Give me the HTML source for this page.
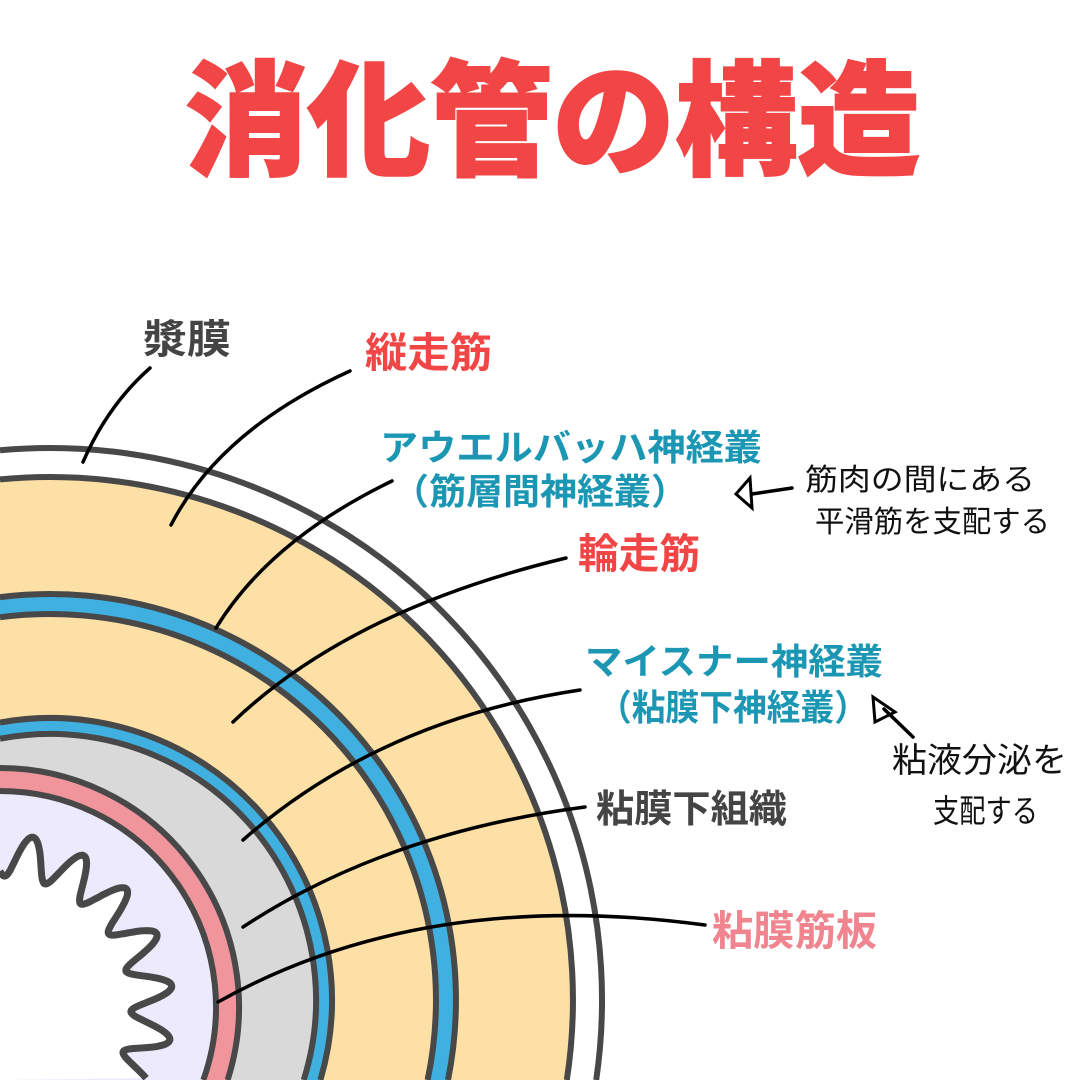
<!DOCTYPE html>
<html><head><meta charset="utf-8"><style>
html,body{margin:0;padding:0;background:#fff;width:1080px;height:1080px;overflow:hidden;}
svg{display:block;}
text{font-family:"Liberation Sans","Noto Sans CJK JP",sans-serif;}
</style></head><body>
<svg id="s" width="1080" height="1080" viewBox="0 0 1080 1080" xmlns="http://www.w3.org/2000/svg">
<g id="layers"></g>
<g fill="none" stroke="#000" stroke-width="3.5" stroke-linecap="round">
<path d="M150,368 Q108,405 83,462"/>
<path d="M350,371 Q220,430 171,525"/>
<path d="M392,481 Q270,540 216,628"/>
<path d="M566,558 Q350,610 233,722"/>
<path d="M580,690 Q380,720 243,840"/>
<path d="M585,807 Q386,833 243,927"/>
<path d="M705,925 Q423,887 218,1002"/>
<path d="M792,488 L752,494"/>
<path d="M736,494 L750,478 L752,508 Z" stroke-width="3"/>
<path d="M913,737 L884,709"/>
<path d="M873,697 L875,722 L895,712 Z" stroke-width="3"/>
</g>
<text x="185" y="165" font-size="124" font-weight="900" fill="#f24545" stroke="#f24545" stroke-width="2" textLength="735" lengthAdjust="spacingAndGlyphs">消化管の構造</text>
<g font-weight="bold">
<text x="143" y="353" font-size="40" fill="#444" textLength="88" lengthAdjust="spacingAndGlyphs">漿膜</text>
<text x="365" y="367" font-size="41" fill="#f24545" textLength="127" lengthAdjust="spacingAndGlyphs">縦走筋</text>
<text x="380" y="460" font-size="36" fill="#1b97b4" textLength="382" lengthAdjust="spacingAndGlyphs">アウエルバッハ神経叢</text>
<text x="392" y="504" font-size="36" fill="#1b97b4" textLength="296" lengthAdjust="spacingAndGlyphs">（筋層間神経叢）</text>
<text x="578" y="568" font-size="41" fill="#f24545" textLength="122" lengthAdjust="spacingAndGlyphs">輪走筋</text>
<text x="585" y="674" font-size="36" fill="#1b97b4" textLength="298" lengthAdjust="spacingAndGlyphs">マイスナー神経叢</text>
<text x="598" y="720" font-size="36" fill="#1b97b4" textLength="270" lengthAdjust="spacingAndGlyphs">（粘膜下神経叢）</text>
<text x="596" y="822" font-size="38" fill="#444" textLength="191" lengthAdjust="spacingAndGlyphs">粘膜下組織</text>
<text x="712" y="945" font-size="41" fill="#f0858f" textLength="165" lengthAdjust="spacingAndGlyphs">粘膜筋板</text>
</g>
<g fill="#111" font-size="30">
<text x="805" y="490" textLength="230" lengthAdjust="spacingAndGlyphs">筋肉の間にある</text>
<text x="815" y="532" textLength="235" lengthAdjust="spacingAndGlyphs">平滑筋を支配する</text>
<text x="892" y="772" font-size="34" textLength="175" lengthAdjust="spacingAndGlyphs">粘液分泌を</text>
<text x="933" y="822" font-size="32" textLength="105" lengthAdjust="spacingAndGlyphs">支配する</text>
</g>
</svg>
<script>
(function(){
var NS="http://www.w3.org/2000/svg", g=document.getElementById("layers");
function add(d,fill,stroke,w){var p=document.createElementNS(NS,"path");p.setAttribute("d",d);p.setAttribute("fill",fill);if(stroke){p.setAttribute("stroke",stroke);p.setAttribute("stroke-width",w);}else p.setAttribute("stroke","none");g.appendChild(p);}
var L=[[50,1000,552,"#fff"],[50,1000,523,"#fde0a6"],[50,1000,406,"#3fb0e0"],[50,1000,386,"#fde0a6"],[50,1000,282,"#3fb0e0"],[50,1000,266,"#d9d9d9"],[0,1007,239,"#f1959d"],[0,1007,216,"#eeeafd"]];
L.forEach(function(c){
 var a=c[0],b=c[1],r=c[2];
 var yt=b-Math.sqrt(r*r-a*a), xb=a+Math.sqrt(r*r-(1080-b)*(1080-b));
 var arc="A"+r+","+r+" 0 0 1 "+xb.toFixed(1)+",1080";
 add("M0,1080 L0,"+yt.toFixed(1)+" "+arc+" Z",c[3]);
 add("M0,"+yt.toFixed(1)+" "+arc,"none","#484848",6);
});
var pts=[];
for(var d=-20;d<=200;d+=0.5){
 var t=d*Math.PI/180, r=152+21*Math.cos(2*Math.PI*(d-11)/18);
 var x=r*Math.sin(t), y=1007-r*Math.cos(t);
 if(x>=0&&y<=1080) pts.push(x.toFixed(1)+","+y.toFixed(1));
}
add("M"+pts.join(" L")+" L0,1080 Z","#fff");
add("M"+pts.join(" L"),"none","#484848",7);
})();
</script>
</body></html>
